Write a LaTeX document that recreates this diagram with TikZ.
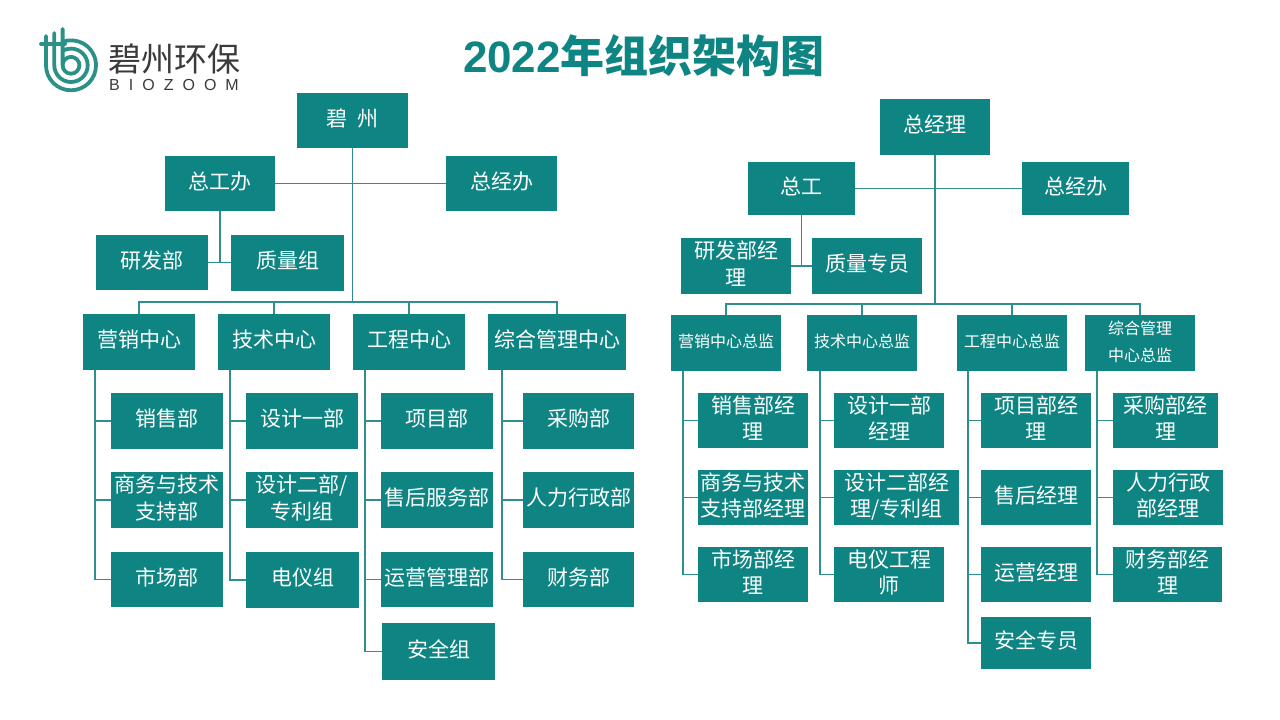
\documentclass[tikz,border=0pt]{standalone}
\usepackage{fontspec}
\setmainfont{Noto Sans CJK SC}
\newfontfamily\titlefont{Liberation Sans}
\usetikzlibrary{calc}
\definecolor{boxteal}{HTML}{0E8583}
\definecolor{lineteal}{HTML}{2F8F8E}
\definecolor{logoteal}{HTML}{2A9088}
\definecolor{logogray}{HTML}{3A3A3A}
\tikzset{
	orgbox/.style={fill=boxteal,text=white,inner sep=0pt,align=center,text depth=6pt,font=\fontsize{21}{26.5}\selectfont},
	smallbox/.style={orgbox,text depth=4pt,font=\fontsize{16}{27}\selectfont},
	link/.style={draw=lineteal,line width=1.2pt},
	logoline/.style={draw=logoteal,line width=3.8pt}
}
\newcommand{\orgnode}[7][orgbox]{% style, name, x1, y1, x2, y2, text
	\node[#1,minimum width=#5pt-#3pt,minimum height=#6pt-#4pt] (#2) at ({(#3+#5)/2},{(#4+#6)/2}) {#7};
}
\begin{document}
\begin{tikzpicture}[x=1pt,y=-1pt]
	\useasboundingbox (0,0) rectangle (1280,720);
	% logo
	\begin{scope}[line cap=round]
		\draw[logoline] (41,43.7) -- (65,43.7);
		\draw[logoline] (46,36) -- (46,65.3) arc[start angle=180,end angle=-110,radius=25];
		\draw[logoline] (54.3,33) -- (54.3,65.3) arc[start angle=180,end angle=-120,radius=16.7];
		\draw[logoline] (62.6,29) -- (62.6,65.3) arc[start angle=180,end angle=-180,radius=8.4];
	\end{scope}
	\node[text=logogray,font=\fontsize{33}{33}\selectfont,inner sep=0pt] (logoname) at (174,59) {碧州环保};
	\node[text=logogray,font=\titlefont\fontsize{16}{16}\selectfont,inner sep=0pt] (logoen) at (174,85) {B\hspace{9pt}I\hspace{9pt}O\hspace{9pt}Z\hspace{9pt}O\hspace{9pt}O\hspace{9pt}M};
	\node[text=boxteal,font=\titlefont\bfseries\fontsize{44}{44}\selectfont,inner sep=0pt] (title) at (644,56) {2022\fontspec{Noto Sans CJK SC Bold}年组织架构图};
	% left tree
	\orgnode{bz}{297}{93}{408}{148}{碧\enspace 州}
	\orgnode{zgb}{165}{156}{275}{211}{总工办}
	\orgnode{zjb}{446}{156}{557}{211}{总经办}
	\orgnode{yfb}{96}{235}{208}{290}{研发部}
	\orgnode{zlz}{231}{235}{344}{291}{质量组}
	\orgnode{yxzx}{83}{314}{195}{370}{营销中心}
	\orgnode{jszx}{218}{314}{330}{370}{技术中心}
	\orgnode{gczx}{353}{314}{465}{370}{工程中心}
	\orgnode{zhzx}{488}{314}{626}{370}{综合管理中心}
	\orgnode{xsb}{111}{393}{223}{449}{销售部}
	\orgnode{swb}{111}{472}{223}{528}{商务与技术\\支持部}
	\orgnode{scb}{111}{552}{223}{607}{市场部}
	\orgnode{sja}{246}{393}{358}{449}{设计一部}
	\orgnode{sjb}{246}{472}{358}{528}{设计二部/\\专利组}
	\orgnode{dyz}{246}{552}{359}{608}{电仪组}
	\orgnode{xmb}{381}{393}{493}{449}{项目部}
	\orgnode{shb}{381}{472}{493}{528}{售后服务部}
	\orgnode{yyb}{381}{552}{493}{607}{运营管理部}
	\orgnode{aqz}{382}{623}{495}{680}{安全组}
	\orgnode{cgb}{523}{393}{634}{449}{采购部}
	\orgnode{rlb}{523}{472}{634}{528}{人力行政部}
	\orgnode{cwb}{523}{552}{634}{607}{财务部}
	% right tree
	\orgnode{zjl}{880}{99}{990}{155}{总经理}
	\orgnode{zg}{748}{162}{855}{215}{总工}
	\orgnode{zjbr}{1022}{162}{1129}{215}{总经办}
	\orgnode{yfjl}{681}{238}{791}{294}{研发部经\\理}
	\orgnode{zlzy}{812}{238}{922}{294}{质量专员}
	\orgnode[smallbox]{yxzj}{671}{315}{781}{371}{营销中心总监}
	\orgnode[smallbox]{jszj}{807}{315}{917}{371}{技术中心总监}
	\orgnode[smallbox]{gczj}{957}{315}{1067}{371}{工程中心总监}
	\orgnode[smallbox]{zhzj}{1085}{315}{1195}{371}{综合管理\\中心总监}
	\orgnode{xsjl}{698}{393}{808}{448}{销售部经\\理}
	\orgnode{swjl}{698}{470}{808}{525}{商务与技术\\支持部经理}
	\orgnode{scjl}{698}{547}{808}{602}{市场部经\\理}
	\orgnode{sjajl}{834}{393}{944}{448}{设计一部\\经理}
	\orgnode{sjbjl}{834}{470}{959}{525}{设计二部经\\理/专利组}
	\orgnode{dygc}{834}{547}{944}{602}{电仪工程\\师}
	\orgnode{xmjl}{981}{393}{1091}{448}{项目部经\\理}
	\orgnode{shjl}{981}{470}{1091}{525}{售后经理}
	\orgnode{yyjl}{981}{547}{1091}{602}{运营经理}
	\orgnode{aqzy}{981}{617}{1091}{669}{安全专员}
	\orgnode{cgjl}{1113}{393}{1218}{448}{采购部经\\理}
	\orgnode{rljl}{1113}{470}{1223}{525}{人力行政\\部经理}
	\orgnode{cwjl}{1113}{547}{1222}{602}{财务部经\\理}
	% connectors
	\coordinate (hubl) at (bz.south |- 0,302);
	\coordinate (hubr) at (zjl.south |- 0,304);
	\draw[link] (bz.south) -- (hubl);
	\draw[link] (zjl.south) -- (hubr);
	\draw[link] (zgb.east) -- (zjb.west);
	\draw[link] (zg.east) -- (zjbr.west);
	\draw[link] (zgb.south) -- (zgb.south |- yfb.east);
	\draw[link] (zg.south) -- (zg.south |- yfjl.east);
	\draw[link] (yfb.east) -- (yfb.east -| zlz.west);
	\draw[link] (yfjl.east) -- (zlzy.west);
	\foreach \top in {yxzx,jszx,gczx,zhzx} {
		\draw[link] (\top.north) |- (hubl);
	}
	\foreach \top in {yxzj,jszj,gczj,zhzj} {
		\draw[link] (\top.north) |- (hubr);
	}
	\foreach \top/\spine/\last in {yxzx/95/scb,jszx/230/dyz,gczx/365/aqz,zhzx/502/cwb,yxzj/683/scjl,jszj/820/dygc,gczj/968/aqzy,zhzj/1097/cwjl} {
		\coordinate (\top spine) at (\spine,0 |- \top.south);
		\draw[link] (\top spine) |- (\last.west);
	}
	\foreach \top/\kid in {yxzx/xsb,yxzx/swb,jszx/sja,jszx/sjb,gczx/xmb,gczx/shb,gczx/yyb,zhzx/cgb,zhzx/rlb,yxzj/xsjl,yxzj/swjl,jszj/sjajl,jszj/sjbjl,gczj/xmjl,gczj/shjl,gczj/yyjl,zhzj/cgjl,zhzj/rljl} {
		\draw[link] (\kid.west) -- (\kid.west -| \top spine);
	}
\end{tikzpicture}
\end{document}
